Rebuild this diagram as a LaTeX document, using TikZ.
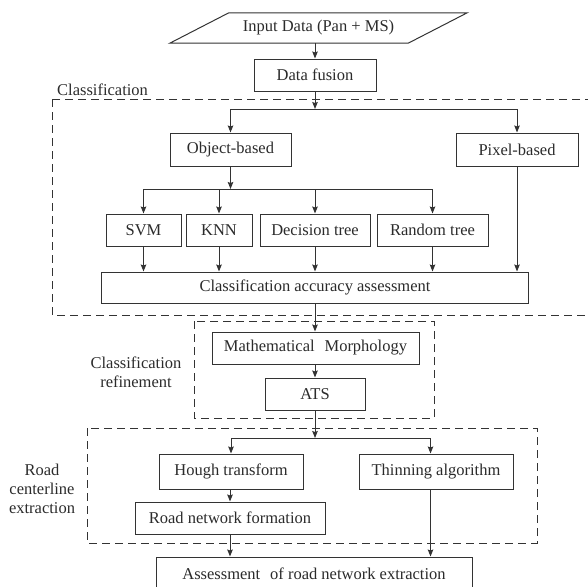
\documentclass[tikz,border=0pt]{standalone}
\usepackage{fontspec}
\setmainfont{Liberation Serif}
\usetikzlibrary{arrows.meta}
\definecolor{ink}{HTML}{2B2B2B}
\definecolor{linec}{HTML}{333333}
\tikzset{
  box/.style={draw=linec, line width=1pt, fill=white, inner sep=0pt, text=ink,
    font=\fontsize{16.5}{19}\selectfont},
  plain/.style={inner sep=0pt, text=ink, font=\fontsize{16.5}{19}\selectfont},
  arr/.style={draw=linec, line width=1pt, -{Stealth[length=7pt,width=5.5pt,inset=1pt]}},
  conn/.style={draw=linec, line width=1pt},
  dbox/.style={draw=linec, line width=1pt, dash pattern=on 8pt off 5pt},
}
\begin{document}
\begin{tikzpicture}[x=1pt,y=-1pt]
\useasboundingbox (0,0) rectangle (588,586);
\clip (0,0) rectangle (588,586);
% group frames
\draw[dbox] (52,99) rectangle (620,315);
\draw[dbox] (194,321) rectangle (434,418);
\draw[dbox] (87,428) rectangle (537,543);
% labels
\node[plain, anchor=west] (lclass) at (57,90) {Classification};
\node[plain, align=center] (lref) at (136,372.5) {Classification\\refinement};
\node[plain, align=center] (lroad) at (42,489) {Road\\centerline\\extraction};
% input parallelogram
\node[plain, minimum width=238pt, minimum height=30pt] (input) at (318.5,28) {Input Data (Pan + MS)};
\draw[conn] ([xshift=29.5pt]input.north west) -- ([xshift=29.5pt]input.north east)
  -- ([xshift=-29.5pt]input.south east) -- ([xshift=-29.5pt]input.south west) -- cycle;
% nodes
\node[box, minimum width=122pt, minimum height=32pt] (df) at (315,75) {Data fusion};
\node[box, minimum width=121pt, minimum height=33pt] (ob) at (230.5,149.5) {Object-based};
\node[box, minimum width=122pt, minimum height=33pt] (pb) at (517,149.5) {Pixel-based};
\node[box, minimum width=75pt, minimum height=32pt] (svm) at (143.5,230) {SVM};
\node[box, minimum width=66pt, minimum height=32pt] (knn) at (219,230) {KNN};
\node[box, minimum width=110pt, minimum height=32pt] (dt) at (315,230) {Decision tree};
\node[box, minimum width=111pt, minimum height=32pt] (rt) at (432.5,230) {Random tree};
\node[box, minimum width=427pt, minimum height=31pt] (caa) at (315,287.5) {Classification accuracy assessment};
\node[box, minimum width=207pt, minimum height=32pt] (mm) at (315.5,348) {Mathematical\hspace{0.6em}Morphology};
\node[box, minimum width=100pt, minimum height=32pt] (ats) at (315,394) {ATS};
\node[box, minimum width=144pt, minimum height=35pt] (ht) at (231,471.5) {Hough transform};
\node[box, minimum width=154pt, minimum height=35pt] (th) at (436,471.5) {Thinning algorithm};
\node[box, minimum width=190pt, minimum height=32pt] (rnf) at (230,518) {Road network formation};
\node[box, minimum width=316pt, minimum height=34pt] (as) at (314,574) {Assessment\hspace{0.6em}of road network extraction};
% split points
\coordinate (s1) at (315,109);
\coordinate (s2) at (230.5,189);
\coordinate (s3) at (315,438);
% connectors
\draw[arr] (df.north |- input.south) -- (df.north);
\draw[arr] (df) -- (s1);
\draw[arr] (s1) -| (ob);
\draw[arr] (s1) -| (pb);
\draw[arr] (ob) -- (s2);
\draw[arr] (s2) -| (svm);
\draw[arr] (s2) -| (knn);
\draw[arr] (s2) -| (dt);
\draw[arr] (s2) -| (rt);
\draw[arr] (svm) -- (svm |- caa.north);
\draw[arr] (knn) -- (knn |- caa.north);
\draw[arr] (dt) -- (dt |- caa.north);
\draw[arr] (rt) -- (rt |- caa.north);
\draw[arr] (pb) -- (pb |- caa.north);
\draw[arr] (caa) -- (caa |- mm.north);
\draw[arr] (mm.south -| ats) -- (ats);
\draw[arr] (ats) -- (s3);
\draw[arr] (s3) -| (ht);
\draw[arr] (s3) -| ([xshift=-5.5pt]th.north);
\draw[arr] (ht.south -| rnf) -- (rnf);
\draw[arr] (rnf.south) -- (rnf.south |- as.north);
\draw[arr] ([xshift=-5.5pt]th.south) -- ([xshift=-5.5pt]th.south |- as.north);
\end{tikzpicture}
\end{document}
